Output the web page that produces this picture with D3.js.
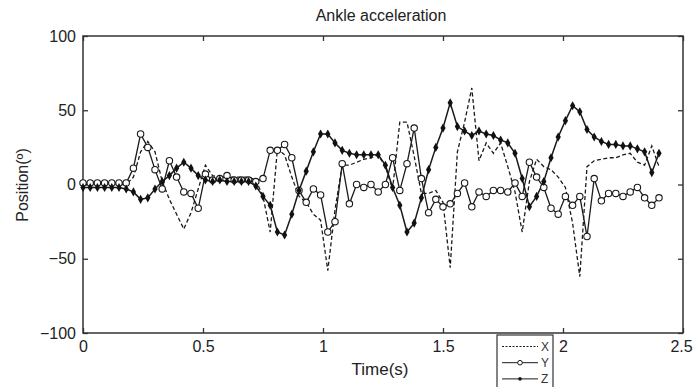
<!DOCTYPE html>
<html>
<head>
<meta charset="utf-8">
<script src="https://cdn.jsdelivr.net/npm/d3@7"></script>
<style>
  body { margin: 0; background: #fff; }
  svg { display: block; font-family: "Liberation Sans", Arial, sans-serif; }
</style>
</head>
<body>
<div id="chart"></div>
<script>
// sample grid: 81 samples, 0.03 s apart
const sampleStep = 0.03;
const time = d3.range(81).map(i => +(i * sampleStep).toFixed(2));

// ankle acceleration
const seriesX = [0, 0, 0, 0, 0, 0, 0, 5, 22, 29, 22, 2, -10, -20, -30, -19, -3, 13, 6, 5,
  5, 5, 5, 5, 3, -8, -32, 24, 20, 5, -8, -12, -20, -24, -58, -17, 13, 13, 15, 17,
  18, 20, 12, -3, 42, 42, 19, -6, -6, -4, -12, -56, 22, 42, 65, 16, 28, 21, 28, 12,
  -5, -32, 2, 17, 12, 10, 5, -2, -26, -62, 12, 16, 17, 18, 18, 20, 21, 15, 13, 26, 12];
const seriesY = [1, 1, 1, 1, 1, 1, 1, 11, 34, 25, 10, -3, 16, 5, -5, -6, -16, 7, 3, 4,
  6, 3, 3, 3, 2, 4, 23, 23, 27, 18, -4, -12, -3, -7, -32, -25, 14, -13, 0, -2,
  0, -5, 0, 18, -4, 14, 38, 4, -19, -10, -15, -13, -6, 1, -15, -5, -8, -4, -4, -5,
  1, -8, 15, 5, -2, -16, -20, -8, -14, -8, -35, 4, -11, -6, -6, -8, -5, -2, -9, -14, -9];
const seriesZ = [-2, -2, -2, -2, -2, -2, -3, -5, -10, -9, -3, 2, 6, 11, 15, 11, 6, 3, 2, 3,
  2, 2, 2, 2, -1, -8, -14, -32, -34, -20, -4, 9, 22, 34, 34, 28, 23, 21, 20, 20,
  20, 20, 13, -2, -14, -32, -26, -9, 10, 25, 38, 55, 39, 36, 33, 36, 34, 33, 30, 28,
  21, 4, -15, -8, 2, 18, 32, 43, 53, 49, 37, 32, 29, 27, 27, 26, 26, 24, 22, 8, 21];

const xTicks = [0, 0.5, 1, 1.5, 2, 2.5];
const yTicks = [-100, -50, 0, 50, 100];
const legendLabels = ['X', 'Y', 'Z'];

const W = 693, H = 387;
const margin = { left: 83, top: 36, right: 10, bottom: 54 };
const iw = W - margin.left - margin.right;
const ih = H - margin.top - margin.bottom;
const ink = '#1a1a1a';

const svg = d3.select('#chart').append('svg')
    .attr('width', W)
    .attr('height', H);

const x = d3.scaleLinear().domain([0, 2.5]).range([0, iw]);
const y = d3.scaleLinear().domain([-100, 100]).range([ih, 0]);

const g = svg.append('g').attr('transform', `translate(${margin.left},${margin.top})`);

// axes, MATLAB style: ticks pointing in on all four sides
function styleAxis(sel) {
    sel.select('.domain').remove();
    sel.selectAll('line').attr('stroke', '#333').attr('stroke-width', 1.3);
    sel.selectAll('text').attr('fill', '#222').style('font-size', '16px');
}

const xAxis = g.append('g')
    .attr('transform', `translate(0,${ih})`)
    .call(d3.axisBottom(x).tickValues(xTicks).tickSize(-5).tickPadding(8).tickFormat(d3.format('')))
    .call(styleAxis);
// keep the last label inside the page
xAxis.selectAll('.tick text').filter(d => d === 2.5).attr('dx', '-2');

g.append('g')
    .call(d3.axisTop(x).tickValues(xTicks).tickSize(-5).tickFormat(''))
    .call(styleAxis);
g.append('g')
    .call(d3.axisLeft(y).tickValues(yTicks).tickSize(-5).tickPadding(7))
    .call(styleAxis);
g.append('g')
    .attr('transform', `translate(${iw},0)`)
    .call(d3.axisRight(y).tickValues(yTicks).tickSize(-5).tickFormat(''))
    .call(styleAxis);

g.append('rect')
    .attr('width', iw).attr('height', ih)
    .attr('fill', 'none')
    .attr('stroke', '#333')
    .attr('stroke-width', 1.5);

// series
const line = d3.line().x((d, i) => x(time[i])).y(d => y(d));

g.append('path')
    .datum(seriesX)
    .attr('d', line)
    .attr('fill', 'none')
    .attr('stroke', ink)
    .attr('stroke-width', 1.3)
    .attr('stroke-dasharray', '4,2.5');

g.append('path')
    .datum(seriesY)
    .attr('d', line)
    .attr('fill', 'none')
    .attr('stroke', ink)
    .attr('stroke-width', 1.3);

g.append('path')
    .datum(seriesZ)
    .attr('d', line)
    .attr('fill', 'none')
    .attr('stroke', ink)
    .attr('stroke-width', 1.5);

g.selectAll('.mk-y')
    .data(seriesY)
    .enter().append('circle')
    .attr('class', 'mk-y')
    .attr('cx', (d, i) => x(time[i]))
    .attr('cy', d => y(d))
    .attr('r', 3.2)
    .attr('fill', '#fff')
    .attr('stroke', ink)
    .attr('stroke-width', 1.1);

const diamond = d3.symbol().type(d3.symbolDiamond).size(24);
g.selectAll('.mk-z')
    .data(seriesZ)
    .enter().append('path')
    .attr('class', 'mk-z')
    .attr('d', diamond)
    .attr('transform', (d, i) => `translate(${x(time[i])},${y(d)})`)
    .attr('fill', '#111');

// titles
svg.append('text')
    .attr('x', 381).attr('y', 21)
    .attr('text-anchor', 'middle')
    .attr('fill', '#222')
    .style('font-size', '16px')
    .text('Ankle acceleration');

svg.append('text')
    .attr('x', 380).attr('y', 375)
    .attr('text-anchor', 'middle')
    .attr('fill', '#222')
    .style('font-size', '17px')
    .text('Time(s)');

svg.append('text')
    .attr('transform', 'translate(28,185) rotate(-90)')
    .attr('text-anchor', 'middle')
    .attr('fill', '#222')
    .style('font-size', '16px')
    .text('Position(º)');

// legend box below the axes
const lg = svg.append('g').attr('transform', 'translate(497,335)');
lg.append('rect')
    .attr('width', 56).attr('height', 60)
    .attr('fill', '#fff')
    .attr('stroke', '#333')
    .attr('stroke-width', 1.2);

legendLabels.forEach((name, k) => {
    const ly = 11.5 + k * 16.2;
    lg.append('line')
        .attr('x1', 5).attr('x2', 41)
        .attr('y1', ly).attr('y2', ly)
        .attr('stroke', ink)
        .attr('stroke-width', 1)
        .attr('stroke-dasharray', k === 0 ? '2,1.5' : null);
    if (k === 1) {
        lg.append('circle').attr('cx', 23).attr('cy', ly).attr('r', 2.3)
            .attr('fill', '#fff').attr('stroke', ink);
    }
    if (k === 2) {
        lg.append('circle').attr('cx', 23).attr('cy', ly).attr('r', 1.8).attr('fill', ink);
    }
    lg.append('text')
        .attr('x', 44).attr('y', ly + 4.5)
        .attr('fill', '#333')
        .style('font-size', '12px')
        .text(name);
});
</script>
</body>
</html>
